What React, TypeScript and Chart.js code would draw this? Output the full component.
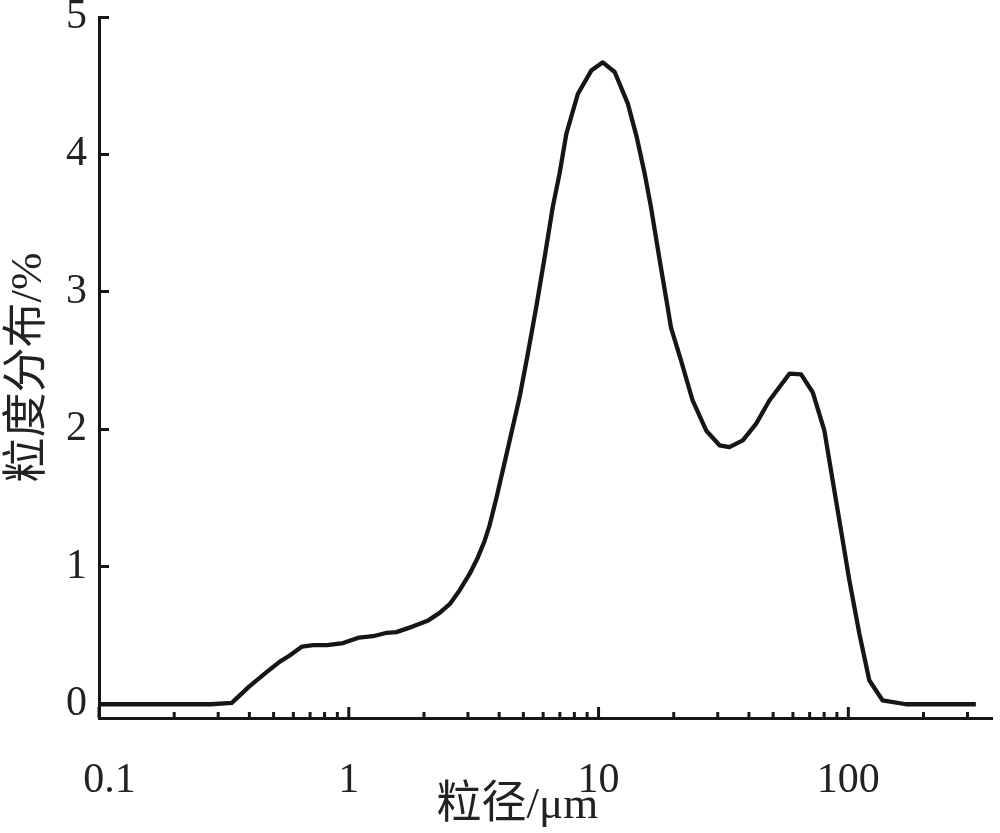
import React, { useEffect, useRef } from "react";
import { Chart, registerables } from "chart.js";

Chart.register(...registerables);

// Particle size (µm)
const particleSizes: number[] = [
  0.1, 0.28, 0.34, 0.4, 0.47, 0.53, 0.58, 0.65, 0.72, 0.82, 0.95, 1.1, 1.25, 1.42, 1.55, 1.8,
  2.08, 2.31, 2.54, 2.78, 3.05, 3.29, 3.5, 3.66, 3.9, 4.41, 4.83, 5.21, 5.63, 6.08, 6.56, 6.98,
  7.43, 8.26, 9.35, 10.4, 11.6, 13.1, 14.2, 15.3, 16.2, 17.5, 18.7, 19.5, 21.4, 23.8, 27.0,
  30.5, 33.4, 37.8, 42.7, 48.3, 58.1, 64.7, 72.0, 80.2, 86.5, 93.5, 101, 110.7, 121.3, 137,
  170, 324,
];
// Distribution (%)
const distribution: number[] = [
  0, 0, 0.01, 0.13, 0.235, 0.31, 0.355, 0.42, 0.43, 0.43, 0.445, 0.485, 0.495, 0.52, 0.525, 0.565,
  0.61, 0.665, 0.73, 0.83, 0.95, 1.07, 1.19, 1.3, 1.5, 1.92, 2.235, 2.55, 2.89, 3.25, 3.62, 3.86,
  4.15, 4.44, 4.61, 4.67, 4.6, 4.37, 4.13, 3.86, 3.62, 3.25, 2.94, 2.74, 2.5, 2.21, 1.99,
  1.884, 1.871, 1.92, 2.04, 2.21, 2.405, 2.4, 2.27, 1.99, 1.63, 1.265, 0.9, 0.514, 0.175, 0.029,
  0, 0,
];

const xTickValues: number[] = [
  0.1, 0.2, 0.3, 0.4, 0.5, 0.6, 0.7, 0.8, 0.9,
  1, 2, 3, 4, 5, 6, 7, 8, 9,
  10, 20, 30, 40, 50, 60, 70, 80, 90,
  100, 200, 300,
];
const xLabelValues: number[] = [0.1, 1, 10, 100];
const xLabelTexts: string[] = ["\u00A0\u00A00.1", "1", "10", "100"];
const yTickValues: number[] = [0, 1, 2, 3, 4, 5];

const xTitle = "粒径/μm\u00A0\u00A0\u00A0\u00A0\u00A0";
const yTitle = "粒度分布/%";

const INK = "#161616";
const FONT = '"Liberation Serif", "Noto Sans CJK SC", serif';

const xTickPlugin = {
  id: "xTickMarks",
  afterDraw(chart: any) {
    const sx = chart.scales.x;
    const ctx = chart.ctx;
    const yBase = sx.top;
    ctx.save();
    ctx.strokeStyle = INK;
    ctx.lineWidth = 3;
    for (const t of sx.ticks) {
      const px = sx.getPixelForValue(t.value);
      const isMajor = xLabelValues.includes(t.value);
      const len = isMajor ? 11 : 6;
      ctx.beginPath();
      ctx.moveTo(px, yBase);
      ctx.lineTo(px, yBase - len);
      ctx.stroke();
    }
    ctx.restore();
  },
};

export default function App() {
  const ref = useRef<HTMLCanvasElement | null>(null);

  useEffect(() => {
    if (!ref.current) return;
    const chart = new Chart(ref.current, {
      type: "line",
      data: {
        datasets: [
          {
            data: particleSizes.map((s, i) => ({ x: s, y: distribution[i] })),
            borderColor: INK,
            borderWidth: 4.3,
            pointRadius: 0,
            tension: 0,
            fill: false,
            borderJoinStyle: "round",
          },
        ],
      },
      plugins: [xTickPlugin],
      options: {
        responsive: false,
        animation: false,
        layout: { padding: { top: 17, right: 8, left: 0, bottom: 0 } },
        plugins: { legend: { display: false }, tooltip: { enabled: false } },
        scales: {
          x: {
            type: "logarithmic",
            position: "bottom",
            min: 0.1,
            max: 376,
            afterBuildTicks: (scale: any) => {
              scale.ticks = xTickValues.map((v) => ({ value: v }));
            },
            afterFit: (scale: any) => {
              scale.height = 115;
              scale.paddingLeft = 0;
              scale.paddingRight = 0;
              scale.paddingTop = 0;
              scale.paddingBottom = 0;
            },
            ticks: {
              autoSkip: false,
              maxRotation: 0,
              minRotation: 0,
              padding: 38,
              color: "#222",
              font: { family: FONT, size: 42 },
              callback: (value: any) => {
                const idx = xLabelValues.findIndex((v) => Math.abs(v - Number(value)) < 1e-9);
                return idx >= 0 ? xLabelTexts[idx] : "";
              },
            },
            grid: { display: true, drawOnChartArea: false, drawTicks: false, color: "rgba(0,0,0,0)" },
            border: { display: true, color: INK, width: 3 },
            title: {
              display: true,
              text: xTitle,
              color: "#222",
              font: { family: FONT, size: 45, lineHeight: 1.2 },
              padding: { top: 0, bottom: 0 },
            },
          },
          y: {
            type: "linear",
            position: "left",
            min: -0.1,
            max: 5,
            afterBuildTicks: (scale: any) => {
              scale.ticks = yTickValues.map((v) => ({ value: v }));
            },
            afterFit: (scale: any) => {
              scale.width = 99;
              scale.paddingLeft = 0;
              scale.paddingRight = 0;
              scale.paddingTop = 0;
              scale.paddingBottom = 0;
            },
            ticks: {
              padding: 22,
              color: "#222",
              font: { family: FONT, size: 42 },
              callback: (value: any) => String(value),
            },
            grid: {
              display: true,
              drawOnChartArea: false,
              drawTicks: true,
              tickLength: -10,
              tickWidth: 3,
              tickColor: INK,
            },
            border: { display: true, color: INK, width: 3 },
            title: {
              display: true,
              text: yTitle,
              color: "#222",
              font: { family: FONT, size: 45, lineHeight: 1.1 },
              padding: { top: 4, bottom: 0 },
            },
          },
        },
      },
    } as any);
    return () => chart.destroy();
  }, []);

  return (
    <div style={{ position: "absolute", left: 0, top: 0, width: 1000, height: 833, background: "#fff" }}>
      <canvas ref={ref} width={1000} height={833} style={{ width: 1000, height: 833 }} />
    </div>
  );
}
